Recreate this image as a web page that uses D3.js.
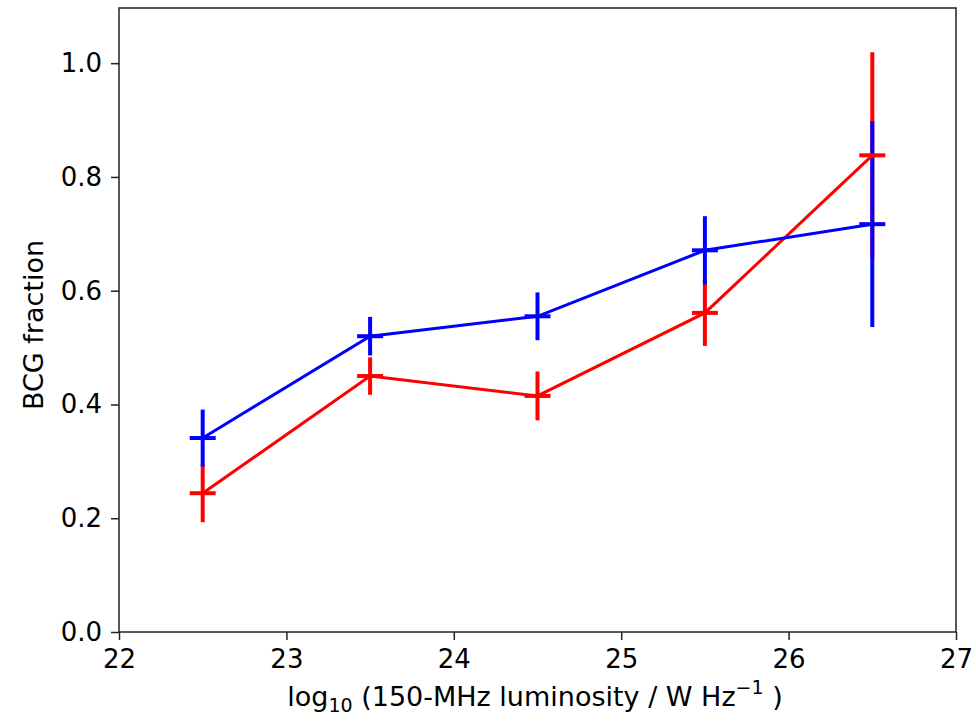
<!DOCTYPE html>
<html>
<head>
<meta charset="utf-8">
<script src="https://cdn.jsdelivr.net/npm/d3@7"></script>
<style>
  body { margin: 0; background: #fff; }
  text { font-family: "DejaVu Sans", sans-serif; fill: #000; }
</style>
</head>
<body>
<script>
// luminosity bins (log10 W/Hz)
const lum = [22.5, 23.5, 24.5, 25.5, 26.5];

// BCG fractions, two samples
const blueFrac = [0.341, 0.520, 0.555, 0.671, 0.717];
const blueErr  = [0.050, 0.034, 0.042, 0.060, 0.181];
const redFrac  = [0.244, 0.450, 0.415, 0.561, 0.838];
const redErr   = [0.051, 0.033, 0.043, 0.058, 0.181];

const xTicks = [22, 23, 24, 25, 26, 27];
const yTicks = [0, 0.2, 0.4, 0.6, 0.8, 1.0];

const width = 976, height = 721;
const margins = { top: 8, right: 20, bottom: 89, left: 119 };
const w = width - margins.left - margins.right;
const h = height - margins.top - margins.bottom;

const svg = d3.select("body").append("svg")
  .attr("width", width)
  .attr("height", height);

const g = svg.append("g")
  .attr("transform", "translate(" + margins.left + "," + margins.top + ")");

const x = d3.scaleLinear().domain([22, 27]).range([0, w]);
const y = d3.scaleLinear().domain([0, 1.097]).range([h, 0]);

// axes
const xAxis = g.append("g")
  .attr("transform", "translate(0," + h + ")")
  .call(d3.axisBottom(x).tickValues(xTicks).tickFormat(d3.format("d")).tickSize(8).tickPadding(8));

const yAxis = g.append("g")
  .call(d3.axisLeft(y).tickValues(yTicks).tickFormat(d3.format(".1f")).tickSize(8).tickPadding(9));

[xAxis, yAxis].forEach(a => {
  a.select(".domain").remove();
  a.selectAll(".tick line").attr("stroke", "#222").attr("stroke-width", 1.5);
  a.selectAll(".tick text").attr("font-size", 26).style("font-family", "DejaVu Sans");
});
xAxis.selectAll(".tick text").attr("dy", "0.75em");

// frame
g.append("rect")
  .attr("x", 0).attr("y", 0)
  .attr("width", w).attr("height", h)
  .attr("fill", "none")
  .attr("stroke", "#222")
  .attr("stroke-width", 1.5);

const series = [
  { name: "red",  color: "#ff0000", vals: redFrac,  errs: redErr },
  { name: "blue", color: "#0000ff", vals: blueFrac, errs: blueErr },
];

const plot = g.append("g");

// error bars
series.forEach(s => {
  plot.append("g").attr("class", "err-" + s.name)
    .selectAll("line")
    .data(lum.map((l, i) => ({ l, v: s.vals[i], e: s.errs[i] })))
    .join("line")
    .attr("x1", d => x(d.l)).attr("x2", d => x(d.l))
    .attr("y1", d => y(d.v - d.e)).attr("y2", d => y(d.v + d.e))
    .attr("stroke", s.color)
    .attr("stroke-width", 4);
});

// connecting lines
const line = d3.line().x((d, i) => x(lum[i])).y(d => y(d));
series.forEach(s => {
  plot.append("path")
    .datum(s.vals)
    .attr("d", line)
    .attr("fill", "none")
    .attr("stroke", s.color)
    .attr("stroke-width", 3);
});

// horizontal markers
series.forEach(s => {
  plot.append("g").attr("class", "mark-" + s.name)
    .selectAll("line")
    .data(lum.map((l, i) => ({ l, v: s.vals[i] })))
    .join("line")
    .attr("x1", d => x(d.l) - 13).attr("x2", d => x(d.l) + 13)
    .attr("y1", d => y(d.v)).attr("y2", d => y(d.v))
    .attr("stroke", s.color)
    .attr("stroke-width", 4);
});

// axis labels
const xl = svg.append("text")
  .attr("x", 535)
  .attr("y", 706)
  .attr("text-anchor", "middle")
  .attr("font-size", 27);
xl.append("tspan").text("log");
xl.append("tspan").attr("font-size", 19).attr("dy", 6).text("10");
xl.append("tspan").attr("dy", -6).text(" (150-MHz luminosity / W Hz");
xl.append("tspan").attr("font-size", 19).attr("dy", -12).text("\u22121");
xl.append("tspan").attr("dy", 12).text(" )");

svg.append("text")
  .attr("transform", "translate(43," + 325 + ") rotate(-90)")
  .attr("text-anchor", "middle")
  .attr("font-size", 27)
  .text("BCG fraction");
</script>
</body>
</html>
